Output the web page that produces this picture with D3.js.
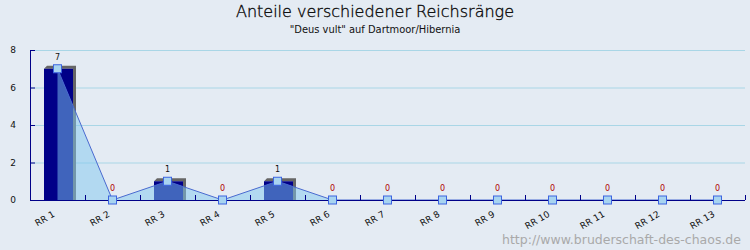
<!DOCTYPE html>
<html><head><meta charset="utf-8">
<script src="https://cdn.jsdelivr.net/npm/d3@7/dist/d3.min.js"></script>
<style>
html,body{margin:0;padding:0;background:#e4ebf3;}
svg{display:block;}
</style></head>
<body><svg id="c" width="750" height="250"></svg>
<script>
const categories = ["RR 1","RR 2","RR 3","RR 4","RR 5","RR 6","RR 7","RR 8","RR 9","RR 10","RR 11","RR 12","RR 13"];
const barValues = [7,0,1,0,1,0,0,0,0,0,0,0,0];
const lineValues = [7,0,1,0,1,0,0,0,0,0,0,0,0];
const yTicks = [0,2,4,6,8];
const titleText = "Anteile verschiedener Reichsränge";
const subtitleText = "\"Deus vult\" auf Dartmoor/Hibernia";
const watermark = "http://www.bruderschaft-des-chaos.de";

const svg = d3.select("#c");
const W = 750, H = 250;
const m = {l:30, r:5, t:50, b:50};
svg.append("rect").attr("width",W).attr("height",H).attr("fill","#e4ebf3");

const x = d3.scaleBand().domain(categories).range([m.l, W-m.r]).padding(0);
const y = d3.scaleLinear().domain([0,8]).range([H-m.b, m.t]);
const cx = d => x(d) + x.bandwidth()/2;

// grid
svg.append("g").selectAll("line").data(yTicks.filter(t=>t>0)).join("line")
  .attr("x1", m.l).attr("x2", W-m.r)
  .attr("y1", d=>y(d)+0.5).attr("y2", d=>y(d)+0.5)
  .attr("stroke","#a9d6e6").attr("stroke-width",1);

// bars (3D-ish)
const bw = 29, depth = 3;
const bars = svg.append("g");
categories.forEach((c,i)=>{
  const v = barValues[i];
  if (v <= 0) return;
  const x0 = cx(c) - 13.5, y0 = y(v), y1 = y(0);
  bars.append("path")
    .attr("d", `M${x0},${y0} L${x0+depth},${y0-depth} L${x0+bw+depth},${y0-depth} L${x0+bw+depth},${y1} L${x0+bw},${y1} L${x0+bw},${y0} Z`)
    .attr("fill","#666666");
  bars.append("rect").attr("x",x0).attr("y",y0).attr("width",bw).attr("height",y1-y0)
    .attr("fill","#000088");
});

// area + line
const pts = categories.map((c,i)=>[cx(c), y(lineValues[i])]);
const area = d3.area().x(d=>d[0]).y0(y(0)).y1(d=>d[1]);
svg.append("path").attr("d", area(pts)).attr("fill","rgb(128,200,240)").attr("fill-opacity",0.5);
svg.append("path").attr("d", d3.line()(pts)).attr("fill","none").attr("stroke","#4a6ad0").attr("stroke-width",1);

// axes
const yAxis = svg.append("g").attr("transform",`translate(${m.l},0)`)
  .call(d3.axisLeft(y).tickValues(yTicks).tickSizeInner(-5).tickSizeOuter(0).tickPadding(14));
yAxis.select(".domain").attr("stroke","#000088");
yAxis.selectAll(".tick line").attr("stroke","#000088");
yAxis.selectAll("text").attr("font-family","DejaVu Sans").attr("font-size",9).attr("fill","#111");

const xAxis = svg.append("g").attr("transform",`translate(0,${y(0)})`);
xAxis.append("line").attr("x1",m.l).attr("x2",W-m.r).attr("y1",0.5).attr("y2",0.5).attr("stroke","#000088");
xAxis.selectAll(".tk").data(d3.range(1,categories.length+1)).join("line")
  .attr("x1", i=>Math.round(m.l + i*x.bandwidth())+0.5).attr("x2", i=>Math.round(m.l + i*x.bandwidth())+0.5)
  .attr("y1",-5).attr("y2",0).attr("stroke","#000088");
xAxis.selectAll(".lb").data(categories).join("text")
  .attr("transform", d=>`translate(${cx(d)-2},${16}) rotate(-30)`)
  .attr("text-anchor","end").attr("font-family","DejaVu Sans").attr("font-size",9).attr("fill","#111")
  .text(d=>d);

// markers
svg.append("g").selectAll("rect").data(pts).join("rect")
  .attr("x", d=>d[0]-4).attr("y", d=>d[1]-4).attr("width",8).attr("height",8)
  .attr("fill","#a8d4f0").attr("stroke","#3c64e0").attr("stroke-width",1);

// value labels
svg.append("g").selectAll("text").data(categories).join("text")
  .attr("x", d=>cx(d)).attr("y", (d,i)=>y(lineValues[i])-9)
  .attr("text-anchor","middle").attr("font-family","DejaVu Sans").attr("font-size",8)
  .attr("fill",(d,i)=>lineValues[i]===0?"#b00000":"#111")
  .text((d,i)=>lineValues[i]);

// titles
svg.append("text").attr("x",375).attr("y",17).attr("text-anchor","middle")
  .attr("font-family","DejaVu Sans").attr("font-weight",200).attr("font-size",16).attr("fill","#000")
  .attr("stroke","#111").attr("stroke-width",0.35)
  .text(titleText);
svg.append("text").attr("x",375).attr("y",33).attr("text-anchor","middle")
  .attr("font-family","DejaVu Sans Condensed, DejaVu Sans").attr("font-stretch","condensed").attr("font-size",11).attr("fill","#111")
  .text(subtitleText);
svg.append("text").attr("x",741).attr("y",244).attr("text-anchor","end")
  .attr("font-family","DejaVu Sans").attr("font-size",12.5).attr("fill","#a9a9a9")
  .text(watermark);
</script></body></html>
